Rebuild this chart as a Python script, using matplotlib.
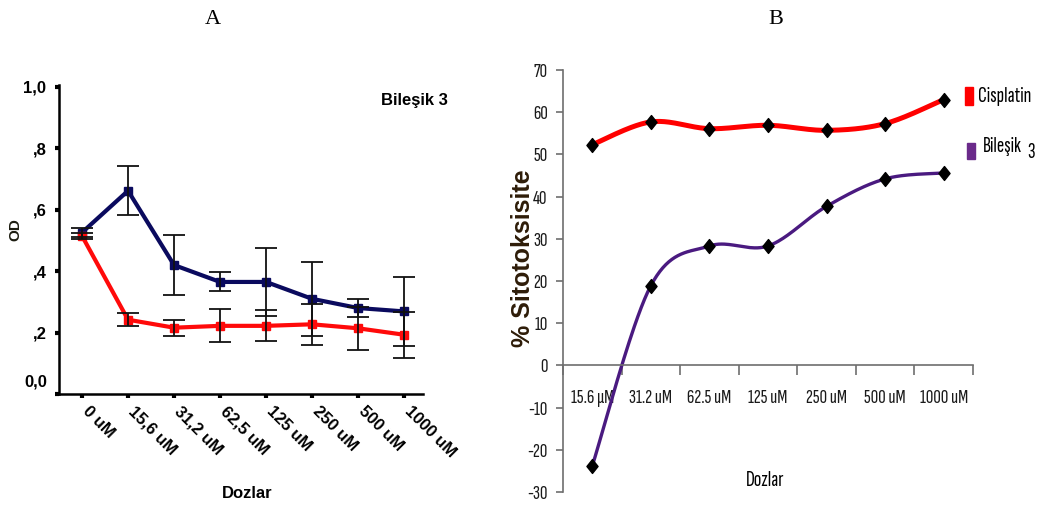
import matplotlib.pyplot as plt
import numpy as np
from matplotlib.patches import Rectangle
from matplotlib.path import Path

# panel A - OD values
dozlar_a = ['0 uM', '15,6 uM', '31,2 uM', '62,5 uM', '125 uM', '250 uM', '500 uM', '1000 uM']
od_mavi = [0.526, 0.662, 0.420, 0.365, 0.365, 0.310, 0.280, 0.269]
od_mavi_err = [0.014, 0.080, 0.097, 0.031, 0.111, 0.120, 0.030, 0.113]
od_kirmizi = [0.515, 0.242, 0.216, 0.222, 0.222, 0.227, 0.214, 0.193]
od_kirmizi_err = [0.010, 0.021, 0.026, 0.054, 0.050, 0.067, 0.070, 0.075]
a_ticks = [0.0, 0.2, 0.4, 0.6, 0.8, 1.0]
a_ticklabels = ['', ',2', ',4', ',6', ',8', '1,0']

# panel B - % sitotoksisite
dozlar_b = ['15.6 \u00b5M', '31.2 uM', '62.5 uM', '125 uM', '250 uM', '500 uM', '1000 uM']
cisplatin = [52.3, 57.7, 56.1, 56.9, 55.7, 57.3, 63.0]
bilesik3 = [-23.8, 18.9, 28.3, 28.3, 37.7, 44.2, 45.6]

NARROW = ['Sofia Sans Extra Condensed', 'DejaVu Sans']
ARIAL = ['Liberation Sans', 'DejaVu Sans']
diamond = Path([(0, 1), (0.8, 0), (0, -1), (-0.8, 0), (0, 1)],
               [Path.MOVETO, Path.LINETO, Path.LINETO, Path.LINETO, Path.CLOSEPOLY])


def smooth(xs, ys, n=40):
    # excel-like smoothed line (bezier through the points)
    pts = np.column_stack([xs, ys]).astype(float)
    p = np.vstack([pts[0], pts, pts[-1]])
    out = []
    t = np.linspace(0, 1, n)[:, None]
    for i in range(1, len(p) - 2):
        p0, p1, p2, p3 = p[i - 1], p[i], p[i + 1], p[i + 2]
        c1 = p1 + (p2 - p0) / 6
        c2 = p2 - (p3 - p1) / 6
        out.append((1 - t)**3 * p1 + 3 * (1 - t)**2 * t * c1 + 3 * (1 - t) * t**2 * c2 + t**3 * p2)
    out = np.vstack(out)
    return out[:, 0], out[:, 1]


fig = plt.figure(figsize=(10.46, 5.08), dpi=100)

# ---------------- A ----------------
axA = fig.add_axes([59 / 1046, 114 / 508, 364 / 1046, 309 / 508])
xa = np.arange(len(dozlar_a))
axA.plot(xa, od_mavi, color='#0a0a5e', lw=3, marker='s', ms=6, zorder=2)
axA.plot(xa, od_kirmizi, color='#ff0a0a', lw=3, marker='s', ms=6, zorder=2)
axA.errorbar(xa, od_mavi, yerr=od_mavi_err, fmt='none', ecolor='#111111', elinewidth=1.3, capsize=8, capthick=1.3, zorder=3)
axA.errorbar(xa, od_kirmizi, yerr=od_kirmizi_err, fmt='none', ecolor='#111111', elinewidth=1.3, capsize=8, capthick=1.3, zorder=3)
axA.set_xlim(-0.5, 7.41)
axA.set_ylim(0, 1.0065)
axA.spines['top'].set_visible(False)
axA.spines['right'].set_visible(False)
axA.spines['left'].set_linewidth(1.8)
axA.spines['bottom'].set_linewidth(1.8)
axA.set_yticks(a_ticks)
axA.set_yticklabels(a_ticklabels, fontsize=12, fontweight='bold', family=ARIAL)
axA.text(-0.033, 0.04, '0,0', transform=axA.transAxes, ha='right', va='center',
         fontsize=12, fontweight='bold', family=ARIAL)
axA.set_xticks(xa)
axA.set_xticklabels(dozlar_a, rotation=-45, ha='left', va='baseline', rotation_mode='anchor',
                    fontsize=12, fontweight='bold', family=ARIAL)
axA.tick_params(axis='both', direction='out', length=3, width=3)
axA.tick_params(axis='y', pad=6)
axA.tick_params(axis='x', pad=10)
fig.text(414 / 1046, 1 - 100 / 508, 'Bile\u015fik 3', ha='center', va='center',
         fontsize=12, fontweight='bold', family=ARIAL)
fig.text(15 / 1046, 1 - 230 / 508, 'OD', rotation=90, ha='center', va='center',
         fontsize=11, fontweight='bold', family=ARIAL, color='#1c1c10')
fig.text(247 / 1046, 1 - 493 / 508, 'Dozlar', ha='center', va='center',
         fontsize=12, fontweight='bold', family=ARIAL)

# ---------------- B ----------------
axB = fig.add_axes([563 / 1046, 16 / 508, 410 / 1046, 422 / 508])
xb = np.arange(len(dozlar_b)) + 0.5
sx, sy = smooth(xb, cisplatin)
axB.plot(sx, sy, color='#ff0000', lw=3.6, zorder=2)
sx, sy = smooth(xb, bilesik3)
axB.plot(sx, sy, color='#4a1a80', lw=2.4, zorder=2)
axB.plot(xb, cisplatin, ls='none', marker=diamond, ms=10, color='black', zorder=3)
axB.plot(xb, bilesik3, ls='none', marker=diamond, ms=10, color='black', zorder=3)
axB.set_xlim(0, 7)
axB.set_ylim(-30, 70)
axB.set_yticks(np.arange(-30, 71, 10))
axB.set_yticklabels([str(v) for v in range(-30, 71, 10)], fontsize=15, family=NARROW, color='#1a1a1a')
axB.spines['top'].set_visible(False)
axB.spines['right'].set_visible(False)
axB.spines['bottom'].set_position(('data', 0))
axB.spines['left'].set_color('#6e6e6e')
axB.spines['bottom'].set_color('#6e6e6e')
axB.spines['left'].set_linewidth(1.2)
axB.spines['bottom'].set_linewidth(1.2)
axB.set_xticks(np.arange(0, 8))
axB.set_xticklabels([])
axB.set_xticks(xb, minor=True)
axB.set_xticklabels(dozlar_b, minor=True, fontsize=15, family=NARROW, color='#1a1a1a')
axB.tick_params(axis='x', which='major', direction='out', length=7, width=1.2, color='#6e6e6e')
axB.tick_params(axis='x', which='minor', length=0, pad=17)
axB.tick_params(axis='y', direction='out', length=5, width=1.2, color='#6e6e6e', pad=6)
fig.text(523 / 1046, 1 - 258 / 508, '% Sitotoksisite', rotation=90, ha='center', va='center',
         fontsize=18, fontweight='bold', family=ARIAL, color='#2e1c08')
fig.text(765 / 1046, 1 - 480 / 508, 'Dozlar', ha='center', va='center', fontsize=16, family=NARROW)

# legend for B
fig.patches.append(Rectangle((965 / 1046, 1 - 105 / 508), 8 / 1046, 18 / 508,
                             transform=fig.transFigure, color='#ff0000'))
fig.text(978 / 1046, 1 - 96 / 508, 'Cisplatin', ha='left', va='center', fontsize=16, family=NARROW)
fig.patches.append(Rectangle((967 / 1046, 1 - 159 / 508), 8 / 1046, 16 / 508,
                             transform=fig.transFigure, color='#6a2a8a'))
fig.text(983 / 1046, 1 - 147 / 508, 'Bile\u015fik', ha='left', va='center', fontsize=16, family=NARROW)
fig.text(1027 / 1046, 1 - 152 / 508, '3', ha='left', va='center', fontsize=16, family=NARROW)

# panel letters
fig.text(213 / 1046, 1 - 20 / 508, 'A', ha='center', va='center', fontsize=16,
         family=['Liberation Serif', 'DejaVu Serif'])
fig.text(776 / 1046, 1 - 20 / 508, 'B', ha='center', va='center', fontsize=16,
         family=['Liberation Serif', 'DejaVu Serif'])

fig.savefig('out.png', dpi=100)
